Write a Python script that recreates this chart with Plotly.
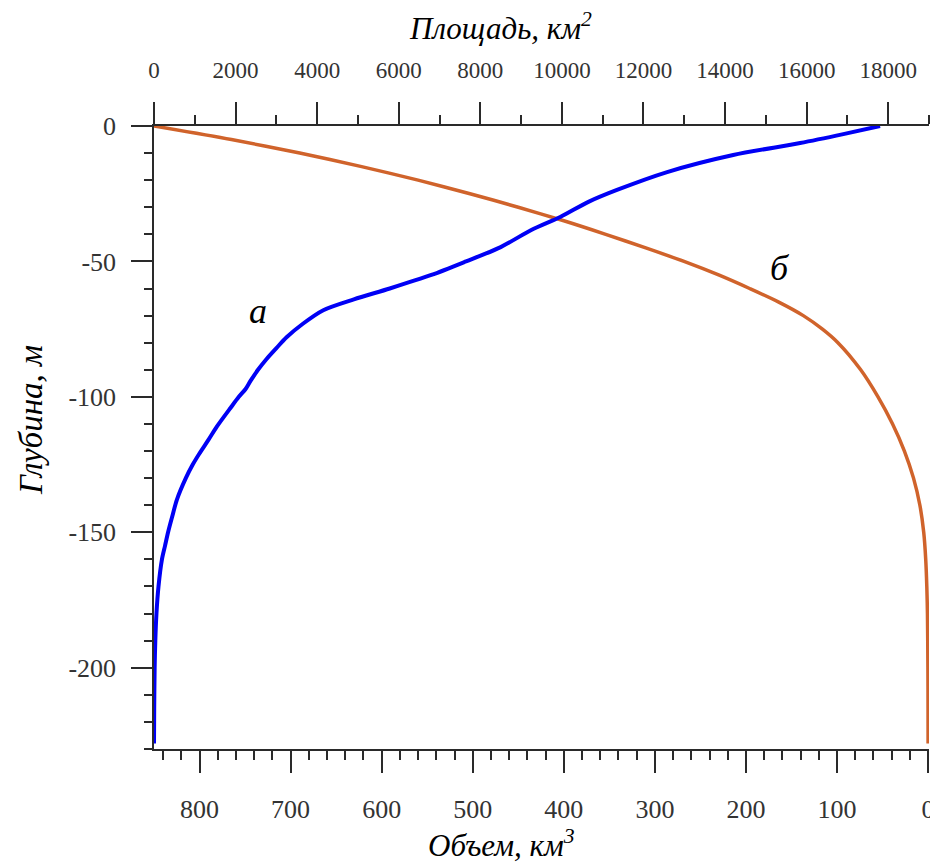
import plotly.graph_objects as go

# Curve "а": water surface area (km²) vs depth (m) — top axis
area_depth = [0, -3, -6.3, -10.7, -17, -23.6, -28, -33.6, -38.4, -44.7, -50, -55, -60,
              -64, -68, -73, -78, -82, -86, -90, -94, -97, -100, -104,
              -111, -116, -121, -125, -130, -138, -144, -150, -155, -160, -170,
              -180, -190, -200, -215, -228]
area_km2 = [17800, 16900, 15840, 14200, 12580, 11350, 10650, 9960, 9250, 8500, 7650, 6800, 5780,
            4900, 4150, 3650, 3250, 3000, 2760, 2550, 2370, 2250, 2080, 1880,
            1540, 1330, 1110, 950, 780, 560, 450, 345, 270, 195, 110,
            60, 32, 16, 5, 0]

# Curve "б": water volume (km³) vs depth (m) — bottom (reversed) axis
vol_depth = [0, -5, -10, -15, -20, -25, -30, -35, -40, -45, -50, -55, -60, -65, -70, -75, -80,
             -90, -100, -110, -120, -130, -140, -150, -160, -170, -180, -200, -215, -228]
volume_km3 = [850, 765, 690, 622, 560, 503, 450, 400, 354, 310, 268, 230, 196, 164, 137, 116, 99,
              74, 55, 39, 26, 16, 9, 4.8, 2.6, 1.4, 0.7, 0.2, 0.05, 0]

depth_ticks = [-200, -150, -100, -50, 0]
area_ticks = list(range(0, 18001, 2000))
volume_ticks = [800, 700, 600, 500, 400, 300, 200, 100, 0]

AX = "#2a2a2a"
TICKFONT = dict(family="Liberation Serif", size=26, color="#333333")

fig = go.Figure()
fig.add_trace(go.Scatter(x=volume_km3, y=vol_depth, mode="lines", xaxis="x", yaxis="y",
                         line=dict(color="#D0632B", width=3.5, shape="spline", smoothing=0.8),
                         showlegend=False, hoverinfo="skip"))
fig.add_trace(go.Scatter(x=area_km2, y=area_depth, mode="lines", xaxis="x2", yaxis="y",
                         line=dict(color="#0000F5", width=4, shape="spline", smoothing=0.8),
                         showlegend=False, hoverinfo="skip"))

# the page body adds an 8px offset, so the figure is sized to fit the 938x864 window
fig.update_layout(
    width=930, height=856,
    margin=dict(l=146, r=9, t=118, b=115, pad=0),
    paper_bgcolor="white", plot_bgcolor="white",
    xaxis=dict(range=[850, -1], tickvals=volume_ticks, ticktext=[str(v) for v in volume_ticks],
               ticks="outside", ticklen=22, tickwidth=1.5, tickcolor=AX, automargin=False,
               showline=True, linecolor=AX, linewidth=1.5, showgrid=False, zeroline=False,
               tickfont=TICKFONT, ticklabelstandoff=14,
               minor=dict(tickmode="linear", tick0=0, dtick=20, ticks="outside", ticklen=9,
                          tickwidth=1.5, tickcolor=AX, showgrid=False)),
    xaxis2=dict(range=[0, 19000], overlaying="x", side="top", anchor="y", automargin=False,
                tickvals=area_ticks, ticktext=[str(v) for v in area_ticks],
                ticks="outside", ticklen=22, tickwidth=1.5, tickcolor=AX,
                showline=True, linecolor=AX, linewidth=1.5, showgrid=False, zeroline=False,
                tickfont=dict(family="Liberation Serif", size=23, color="#333333"),
                ticklabelstandoff=15,
                minor=dict(tickmode="linear", tick0=0, dtick=1000, ticks="outside", ticklen=9,
                           tickwidth=1.5, tickcolor=AX, showgrid=False)),
    yaxis=dict(range=[-230, 0], tickvals=depth_ticks, ticktext=[str(v) for v in depth_ticks],
               ticks="outside", ticklen=21, tickwidth=1.5, tickcolor=AX, automargin=False,
               showline=True, linecolor=AX, linewidth=1.5, showgrid=False, zeroline=False,
               tickfont=TICKFONT, ticklabelstandoff=10,
               minor=dict(tickmode="linear", tick0=0, dtick=10, ticks="outside", ticklen=8,
                          tickwidth=1.5, tickcolor=AX, showgrid=False)),
)

TITLE = dict(family="Liberation Serif", size=31, color="black")
fig.add_annotation(text="<i>Площадь, км<sup>2</sup></i>", xref="paper", yref="paper",
                   x=0.4465, y=1.16, showarrow=False, font=TITLE, xanchor="center", yanchor="middle")
fig.add_annotation(text="<i>Объем, км<sup>3</sup></i>", xref="paper", yref="paper",
                   x=0.448, y=-0.152, showarrow=False, font=TITLE, xanchor="center", yanchor="middle")
fig.add_annotation(text="<i>Глубина, м</i>", xref="paper", yref="paper",
                   x=-0.1587, y=0.528, showarrow=False,
                   font=dict(family="Liberation Serif", size=33, color="black"), textangle=-90,
                   xanchor="center", yanchor="middle")
fig.add_annotation(text="<i>а</i>", xref="paper", yref="paper", x=0.120, y=0.7385,
                   showarrow=False, font=dict(family="Liberation Serif", size=36, color="black"))
fig.add_annotation(text="<i>б</i>", xref="paper", yref="paper", x=0.823, y=0.807,
                   showarrow=False, font=dict(family="Liberation Serif", size=36, color="black"))

fig.write_html("out.html")
